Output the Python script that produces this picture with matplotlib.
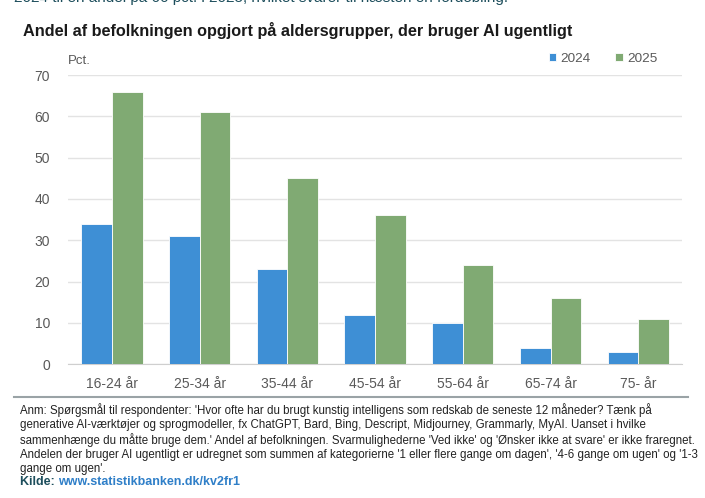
import numpy as np
import matplotlib.pyplot as plt

plt.rcParams['font.family'] = ['Liberation Sans', 'DejaVu Sans']

# data
categories = ["16-24 år", "25-34 år", "35-44 år", "45-54 år", "55-64 år", "65-74 år", "75- år"]
val_2024 = [34, 31, 23, 12, 10, 4, 3]
val_2025 = [66, 61, 45, 36, 24, 16, 11]
series_labels = ["2024", "2025"]

blue = "#3e8fd5"
green = "#80aa73"
grey_txt = "#595959"

fig = plt.figure(figsize=(7.05, 4.98), dpi=100)
ax = fig.add_axes([0.0965, 0.269, 0.871, 0.58])

x = np.arange(len(categories))
w = 0.35
ax.bar(x - w / 2, val_2024, w, color=blue, edgecolor="white", linewidth=0.6, label=series_labels[0], zorder=3)
ax.bar(x + w / 2, val_2025, w, color=green, edgecolor="white", linewidth=0.6, label=series_labels[1], zorder=3)

ax.set_ylim(0, 70)
ax.set_yticks(range(0, 71, 10))
ax.set_xlim(-0.5, len(categories) - 0.5)
ax.set_xticks(x)
ax.set_xticklabels(categories)
ax.grid(axis="y", color="#e3e3e3", linewidth=1, zorder=0)
for s in ["top", "right", "left"]:
    ax.spines[s].set_visible(False)
ax.spines["bottom"].set_color("#cfcfcf")
ax.tick_params(axis="both", length=0, colors=grey_txt, labelsize=10, pad=9)
ax.tick_params(axis="y", pad=13)

ax.text(0.0, 1.03, "Pct.", transform=ax.transAxes, fontsize=9.5, color=grey_txt, ha="left", va="bottom")

ax.legend(loc="center right", bbox_to_anchor=(0.95, 0.882), bbox_transform=fig.transFigure, ncol=2, frameon=False,
          fontsize=9.7, labelcolor=grey_txt, handlelength=0.55, handleheight=0.55,
          columnspacing=1.8, handletextpad=0.35)

# clipped lead text at top
fig.text(0.02, 1.005, "2024 til en andel på 66 pct. i 2025, hvilket svarer til næsten en fordobling.",
         fontsize=11, color="#1d4e5c", ha="left", va="center")

fig.text(0.032, 0.938, "Andel af befolkningen opgjort på aldersgrupper, der bruger AI ugentligt",
         fontsize=11.7, fontweight="bold", color="#1a1a1a", ha="left", va="center")

# separator line
fig.add_artist(plt.Line2D([0.02, 0.976], [0.202, 0.202], color="#9aa3a6", linewidth=1.5))

note = ("Anm: Spørgsmål til respondenter: 'Hvor ofte har du brugt kunstig intelligens som redskab de seneste 12 måneder? Tænk på\n"
        "generative AI-værktøjer og sprogmodeller, fx ChatGPT, Bard, Bing, Descript, Midjourney, Grammarly, MyAI. Uanset i hvilke\n"
        "sammenhænge du måtte bruge dem.' Andel af befolkningen. Svarmulighederne 'Ved ikke' og 'Ønsker ikke at svare' er ikke fraregnet.\n"
        "Andelen der bruger AI ugentligt er udregnet som summen af kategorierne '1 eller flere gange om dagen', '4-6 gange om ugen' og '1-3\n"
        "gange om ugen'.")
fig.text(0.028, 0.19, note, fontsize=8.3, color="#222222", ha="left", va="top", linespacing=1.2)

fig.text(0.028, 0.032, "Kilde: ", fontsize=9, fontweight="bold", color="#1d4e5c", ha="left", va="center")
fig.text(0.083, 0.032, "www.statistikbanken.dk/kv2fr1", fontsize=9, fontweight="bold", color="#2f7fc8",
         ha="left", va="center")

fig.savefig("out.png", dpi=100)
